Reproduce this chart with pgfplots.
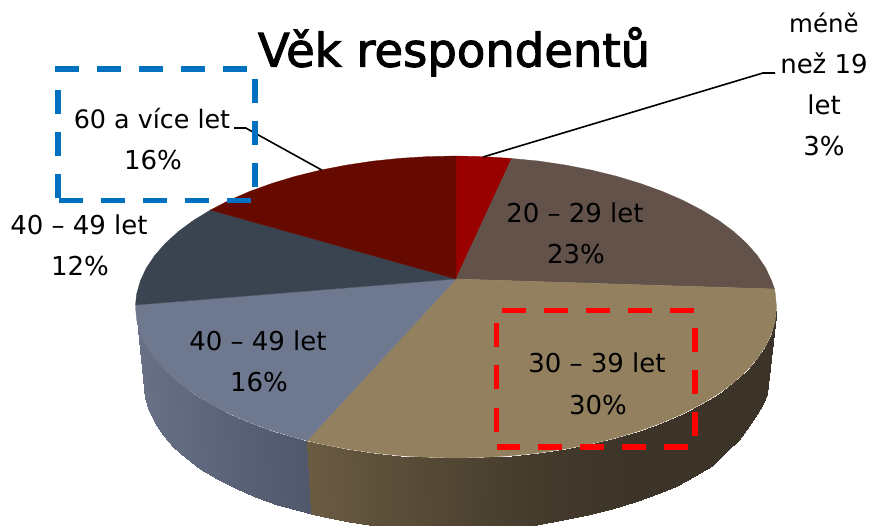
\documentclass[border=0pt]{standalone}
\usepackage{pgfplots}
\pgfplotsset{compat=1.18}
\usepackage{fontspec}
\setmainfont{DejaVu Sans}
\newfontfamily\titlefont[FakeBold=2.2]{DejaVu Sans}
\definecolor{cred}{RGB}{153,0,0}
\definecolor{cbrown}{RGB}{98,82,74}
\definecolor{ctan}{RGB}{147,128,95}
\definecolor{cblue}{RGB}{110,121,144}
\definecolor{cslate}{RGB}{58,67,80}
\definecolor{cdark}{RGB}{102,10,0}
\definecolor{boxblue}{RGB}{0,112,192}
\pgfplotsset{
  colormap={tanside}{rgb255=(60,52,40) rgb255=(106,91,66)},
  colormap={blueside}{rgb255=(80,88,108) rgb255=(106,114,136)},
}
\newcommand{\lab}[3]{\node[anchor=base,inner sep=0pt,text=black] at (axis cs:#1,#2) {\fontsize{26}{26}\selectfont #3};}
\begin{document}
\begin{tikzpicture}
\useasboundingbox (0,0) rectangle (870pt,526pt);
\begin{axis}[
  at={(0,0)},anchor=south west,
  width=870pt,height=526pt,scale only axis,hide axis,
  xmin=0,xmax=870,ymin=0,ymax=526,y dir=reverse,
  point meta min=0,point meta max=1,
]
% side of the pie, blue part
\addplot[surf,shader=interp,mesh/rows=2,colormap name=blueside,point meta=explicit] table[x=x,y=y,meta=m] {
x y m
135.5 307 1
136.7 320.2 .97
140.4 333.2 .93
146.4 346.1 .88
154.8 358.6 .83
165.5 370.8 .77
178.4 382.5 .7
193.4 393.6 .6
210.5 404 .5
229.4 413.8 .4
250 422.7 .28
272.2 430.7 .17
295.7 437.8 .05
307 440.6 0
144 385 1
145.2 397.8 .97
148.7 410.5 .93
154.6 422.9 .88
162.8 435.2 .83
173.2 446.9 .77
185.8 458.2 .7
200.4 468.9 .6
217 479 .5
235.4 488.3 .4
255.4 496.9 .28
277 504.5 .17
300 511.3 .05
311 514.1 0
};
% side of the pie, tan part
\addplot[surf,shader=interp,mesh/rows=2,colormap name=tanside,point meta=explicit] table[x=x,y=y,meta=m] {
x y m
307 440.6 1
320.6 443.9 .96
346.4 448.9 .86
373.1 452.9 .75
400.3 455.7 .65
428.1 457.4 .55
456 458 .45
483.9 457.4 .36
511.7 455.7 .27
538.9 452.9 .19
565.6 448.9 .12
591.4 443.9 .07
616.3 437.8 .03
639.8 430.7 0
662 422.7 0
682.6 413.8 0
701.5 404 0
718.6 393.6 0
733.6 382.5 0
746.5 370.8 0
757.2 358.6 0
765.6 346.1 0
771.6 333.2 0
775.3 320.2 0
776.5 307 0
311 514.1 1
324.1 517 .96
349.3 521.8 .86
375.2 525.5 .75
401.8 528.1 .65
428.8 529.6 .55
456 530 .45
483.2 529.2 .36
510.2 527.5 .27
536.8 524.5 .19
562.7 520.4 .12
587.9 515.4 .07
612 509.3 .03
635 502.3 0
656.6 494.3 0
676.6 485.5 0
695 476 0
711.6 465.7 0
726.2 452 0
738.8 440 0
749.2 426 0
757.4 414 0
763.3 404 0
766.8 393.8 0
768 381 0
};
% top faces
\addplot[fill=cred,draw=cred,line width=.3pt] coordinates {(456,279)(456,156)(483.9,156.6)(511.7,158.5)} -- cycle;
\addplot[fill=cbrown,draw=cbrown,line width=.3pt] coordinates {(456,279)(511.7,158.5)(538.9,161.1)(565.6,165.1)(591.4,170.1)(616.3,176.2)(639.8,183.3)(662,191.3)(682.6,200.2)(701.5,210)(718.6,220.4)(733.6,231.5)(746.5,243.2)(757.2,255.4)(765.6,267.9)(771.6,280.8)(774.5,289)} -- cycle;
\addplot[fill=ctan,draw=ctan,line width=.3pt] coordinates {(456,279)(774.5,289)(775.3,293.8)(776.5,307)(775.3,320.2)(771.6,333.2)(765.6,346.1)(757.2,358.6)(746.5,370.8)(733.6,382.5)(718.6,393.6)(701.5,404)(682.6,413.8)(662,422.7)(639.8,430.7)(616.3,437.8)(591.4,443.9)(565.6,448.9)(538.9,452.9)(511.7,455.7)(483.9,457.4)(456,458)(428.1,457.4)(400.3,455.7)(373.1,452.9)(346.4,448.9)(320.6,443.9)(307,440.6)} -- cycle;
\addplot[fill=cblue,draw=cblue,line width=.3pt] coordinates {(456,279)(307,440.6)(295.7,437.8)(272.2,430.7)(250,422.7)(229.4,413.8)(210.5,404)(193.4,393.6)(178.4,382.5)(165.5,370.8)(154.8,358.6)(146.4,346.1)(140.4,333.2)(136.7,320.2)(135.5,307)(135.5,305)} -- cycle;
\addplot[fill=cslate,draw=cslate,line width=.3pt] coordinates {(456,279)(135.5,305)(136.7,293.8)(140.4,280.8)(146.4,267.9)(154.8,255.4)(165.5,243.2)(178.4,231.5)(193.4,220.4)(210.5,210)} -- cycle;
\addplot[fill=cdark,draw=cdark,line width=.3pt] coordinates {(456,279)(210.5,210)(229.4,200.2)(250,191.3)(272.2,183.3)(295.7,176.2)(320.6,170.1)(346.4,165.1)(373.1,161.1)(400.3,158.3)(428.1,156.6)(456,156)} -- cycle;
% leader lines
\addplot[black,line width=1.6pt] coordinates {(234,128)(245.7,128)(321.7,170)};
\addplot[black,line width=1.6pt] coordinates {(775,73)(763,73)(483,157)};
% dashed frames
\addplot[boxblue,line width=5.5pt,dash pattern=on 24pt off 18pt,line cap=butt] coordinates {(55,69)(255,69)(255,200.7)(58,200.7)};
\addplot[boxblue,line width=5.5pt,dash pattern=on 24pt off 18pt,line cap=butt] coordinates {(58,198.4)(58,69)};
\addplot[red,line width=5.5pt,dash pattern=on 24pt off 18pt,line cap=butt] coordinates {(502,310.7)(695,310.7)(695,447)(496.7,447)};
\addplot[red,line width=5.5pt,dash pattern=on 24pt off 18pt,line cap=butt] coordinates {(496.7,431.5)(496.7,323)};
% text
\node[anchor=base,inner sep=0pt,text=black] at (axis cs:454,66.7) {\fontsize{46.5}{47}\selectfont\titlefont Věk respondentů};
\lab{152}{129}{\fontsize{25.4}{26}\selectfont 60 a více let}
\lab{153}{170}{16\%}
\lab{79}{235}{40 – 49 let}
\lab{80}{276}{12\%}
\lab{258}{350.7}{40 – 49 let}
\lab{259}{391.7}{16\%}
\lab{597}{372.7}{30 – 39 let}
\lab{598}{414}{30\%}
\lab{575}{222.7}{20 – 29 let}
\lab{576}{264}{23\%}
\lab{824}{32.7}{\fontsize{24.5}{26}\selectfont méně}
\lab{824}{74}{než 19}
\lab{824}{115}{let}
\lab{824}{156}{3\%}
\end{axis}
\end{tikzpicture}
\end{document}
